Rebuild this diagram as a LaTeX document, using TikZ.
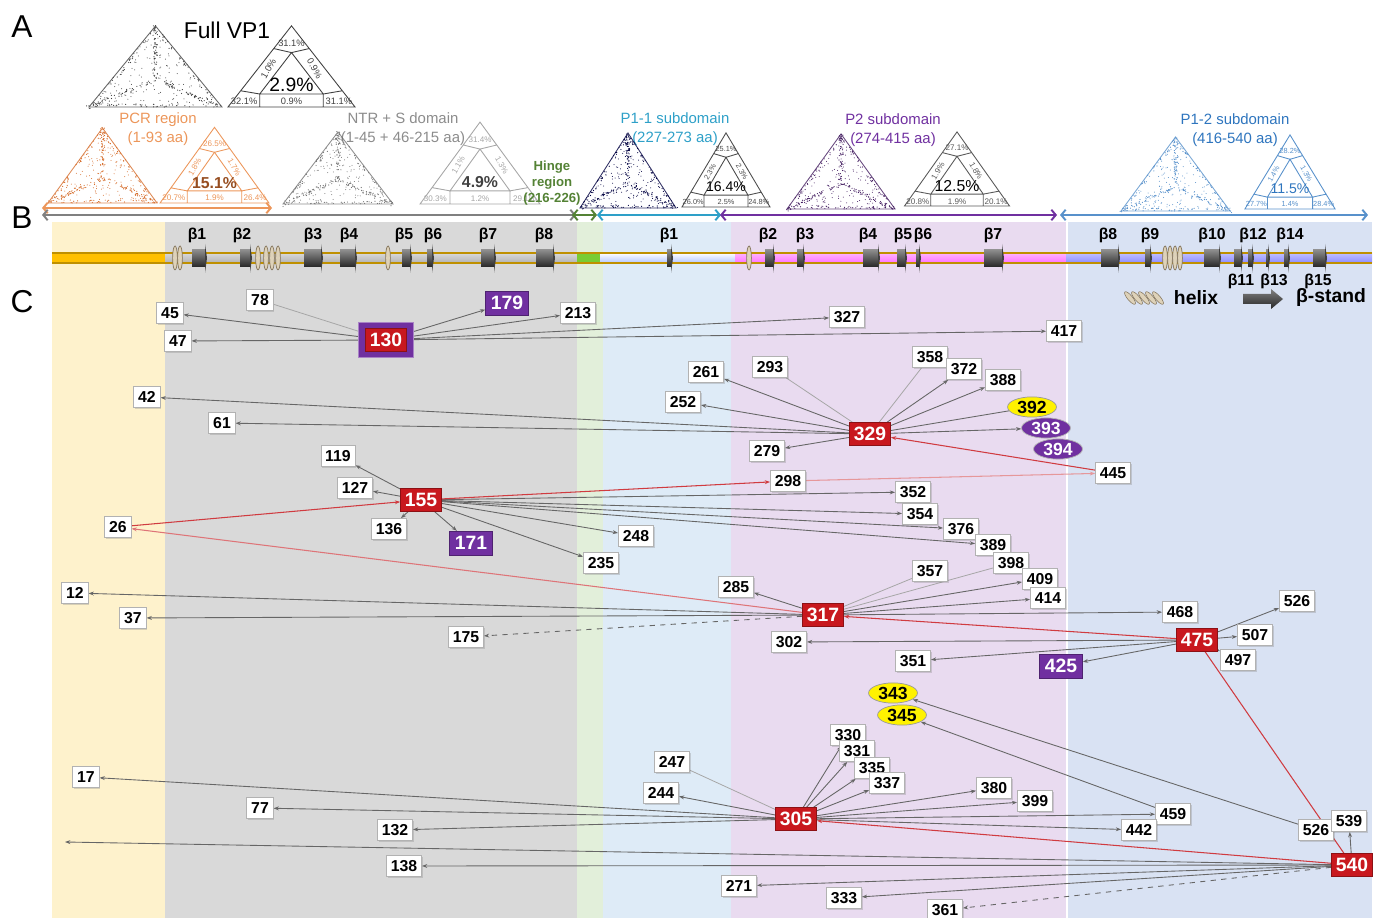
\documentclass[tikz,border=0pt]{standalone}
\usepackage{fontspec}
\setmainfont{Liberation Sans}
\setsansfont{Liberation Sans}
\usetikzlibrary{
  arrows.meta,
  shapes.geometric,
  shadows
}
\definecolor{hubred}{RGB}{200,24,30}
\definecolor{pviolet}{RGB}{112,48,160}
\definecolor{pcror}{RGB}{236,150,90}
\definecolor{pcrdot}{RGB}{214,110,45}
\definecolor{hingegreen}{RGB}{84,130,53}
\definecolor{ponecyan}{RGB}{46,160,200}
\definecolor{ptwopurple}{RGB}{112,48,160}
\definecolor{ponetwoblue}{RGB}{46,117,190}
\definecolor{colyellow}{RGB}{254,242,204}
\definecolor{colgray}{RGB}{217,217,217}
\definecolor{colgreen}{RGB}{226,239,218}
\definecolor{colcyan}{RGB}{222,235,247}
\definecolor{colpurple}{RGB}{233,219,240}
\definecolor{colblue}{RGB}{217,226,243}
\definecolor{baryellow}{RGB}{255,192,0}
\definecolor{bargold}{RGB}{191,144,0}
\definecolor{coilfill}{RGB}{222,210,185}
\definecolor{coiledge}{RGB}{130,115,90}

\pgfdeclarelayer{background}
\pgfdeclarelayer{edges}
\pgfsetlayers{background,edges,main}

% scatter triangle: base centre x, base y, width, height, colour
\newcommand\scattri[5]{%
  \begin{scope}[shift={(#1,#2)}]
    \draw[#5, draw opacity=0.8, line width=0.5pt] (-#3/2,0) -- (#3/2,0) -- (0,-#4) -- cycle;
    \foreach \vx/\vy in {-0.5/0, 0.5/0, 0/-1}{
      \foreach \k in {1,...,60}{
        \pgfmathsetmacro\t{rnd^0.8}
        \pgfmathsetmacro\px{\vx*#3*\t+(rnd+rnd-1)*3}
        \pgfmathsetmacro\py{-#4/3+(\vy*#4+#4/3)*\t+(rnd+rnd-1)*3}
        \fill[#5] (\px,\py) circle (0.6);
      }
    }
    \foreach \ax/\ay/\bx/\by in {-0.5/0/0.5/0, 0.5/0/0/-1, 0/-1/-0.5/0}{
      \foreach \k in {1,...,35}{
        \pgfmathsetmacro\t{rnd}
        \pgfmathsetmacro\s{rnd*0.12}
        \pgfmathsetmacro\px{(\ax+(\bx-\ax)*\t)*#3*(1-\s)}
        \pgfmathsetmacro\py{(\ay+(\by-\ay)*\t)*#4*(1-\s)-#4/3*\s}
        \fill[#5] (\px,\py) circle (0.6);
      }
    }
    \foreach \k in {1,...,130}{
      \pgfmathsetmacro\a{rnd}
      \pgfmathsetmacro\b{rnd}
      \pgfmathsetmacro\aa{(\a+\b>1) ? 1-\a : \a}
      \pgfmathsetmacro\bb{(\a+\b>1) ? 1-\b : \b}
      \fill[#5] (-#3/2+\aa*#3+\bb*#3/2, -\bb*#4) circle (0.5);
    }
  \end{scope}}

% sectioned triangle: scope options, colour, top, left, right, centre, bottom left, bottom mid, bottom right
\newcommand\sectri[9]{%
  \begin{scope}[#1]
    \draw[#2, line width=0.5pt] (-55,0) -- (55,0) -- (0,-78) -- cycle
      (0,-52.3) -- (27.5,-12.5) -- (-27.5,-12.5) -- cycle
      (-27.5,-12.5) -- (-27.5,0) (27.5,-12.5) -- (27.5,0)
      (-27.5,-12.5) -- (-44,-15.6) (27.5,-12.5) -- (44,-15.6)
      (0,-52.3) -- (-15.4,-56.2) (0,-52.3) -- (15.4,-56.2);
    \node[pct, text=#2] at (0,-61.5) {#3};
    \node[pct, text=#2, rotate=60] at (-20,-37) {#4};
    \node[pct, text=#2, rotate=-60] at (20,-37) {#5};
    \node[centrepct] at (0,-21) {#6};
    \node[pct, text=#2] at (-41,-5) {#7};
    \node[pct, text=#2] at (0,-5) {#8};
    \node[pct, text=#2] at (41,-5) {#9};
  \end{scope}}

% beta strand and helix coil on the bar
\newcommand\strand[2]{%
  \shade[top color=black!45, bottom color=black!85] (#1,250) rectangle (#2,267);
  \fill[black!75] (#2,244) -- (#2+2,258) -- (#2,273) -- cycle;}
\newcommand\coil[1]{%
  \filldraw[draw=coiledge, fill=coilfill, line width=0.4pt] (#1,258) ellipse (2.4 and 12);}

\begin{document}
\begin{tikzpicture}[x=0.02cm, y=-0.02cm,
  every node/.style={font=\sffamily},
  panel/.style={font=\fontsize{18}{18}\selectfont},
  region/.style={font=\fontsize{8.5}{10.5}\selectfont, align=center, inner sep=0pt},
  pct/.style={font=\fontsize{4.6}{5}\selectfont, inner sep=0pt},
  centrepct/.style={font=\fontsize{9}{9}\selectfont, inner sep=0pt},
  blab/.style={font=\bfseries\fontsize{9}{9}\selectfont, inner sep=0pt},
  legtxt/.style={font=\bfseries\fontsize{11}{11}\selectfont, inner sep=0pt},
  num/.style={draw=black!30, fill=white, font=\bfseries\fontsize{9}{9}\selectfont,
              minimum height=12pt, inner xsep=2.5pt, inner ysep=1pt,
              drop shadow={shadow xshift=0.7pt, shadow yshift=-0.7pt, opacity=0.3}},
  hub/.style={fill=hubred, draw=hubred!70!black, text=white,
              font=\bfseries\fontsize{11}{11}\selectfont,
              minimum height=13pt, inner xsep=2.5pt, inner ysep=1pt},
  pbox/.style={fill=pviolet, draw=pviolet!70!black, text=white,
               font=\bfseries\fontsize{11}{11}\selectfont,
               minimum height=13.5pt, inner xsep=3pt, inner ysep=1pt},
  pframe/.style={fill=pviolet, draw=pviolet!60, minimum width=31pt, minimum height=20pt},
  yoval/.style={ellipse, fill=yellow, draw=black!40, font=\bfseries\fontsize{10}{10}\selectfont,
                inner xsep=1.5pt, inner ysep=0pt, minimum height=11.5pt},
  poval/.style={ellipse, fill=pviolet, draw=black!30, text=white,
                font=\bfseries\fontsize{10}{10}\selectfont,
                inner xsep=1.5pt, inner ysep=0pt, minimum height=11.5pt},
  link/.style={draw=black!60, line width=0.5pt, -{Stealth[length=3pt,width=2.2pt]}},
  faint/.style={draw=black!35, line width=0.45pt},
  redlink/.style={draw=hubred!85, line width=0.6pt, -{Stealth[length=3pt,width=2.2pt]}},
  rangearr/.style={line width=1.1pt, {Straight Barb[length=2.5pt,width=6pt]}-{Straight Barb[length=2.5pt,width=6pt]}},
]
\useasboundingbox (0,0) rectangle (1379,918);
\pgfmathsetseed{7}

% ---------- A: ternary plots ----------
\node[panel] (pa) at (22,27) {A};
\node[font=\fontsize{13}{13}\selectfont] (full) at (227,30) {Full VP1};

\scattri{155.5}{107}{133}{81}{black!75}
\sectri{shift={(291.5,107)}, xscale=1.155, yscale=1.04,
        pct/.append style={font=\fontsize{5.3}{5.5}\selectfont},
        centrepct/.append style={font=\fontsize{11}{11}\selectfont}}
       {black!75}{31.1\%}{1.0\%}{0.9\%}{2.9\%}{32.1\%}{0.9\%}{31.1\%}

\node[region, text=pcror] (pcr) at (158,129) {PCR region\\(1-93 aa)};
\scattri{102.5}{203}{109}{75}{pcrdot}
\sectri{shift={(214.5,203)}, xscale=0.99, yscale=0.97,
        centrepct/.append style={font=\bfseries\fontsize{9}{9}\selectfont, text=pcrdot!70!black}}
       {pcror}{26.5\%}{1.8\%}{1.7\%}{15.1\%}{20.7\%}{1.9\%}{26.4\%}

\node[region, text=black!45] (ntr) at (403,129) {NTR + S domain\\(1-45 + 46-215 aa)};
\scattri{338}{204}{110}{72}{black!55}
\sectri{shift={(480,204)}, xscale=1.09, yscale=1.05,
        centrepct/.append style={font=\bfseries\fontsize{9}{9}\selectfont, text=black!75}}
       {black!35}{31.4\%}{1.1\%}{1.3\%}{4.9\%}{30.3\%}{1.2\%}{29.1\%}

\node[region, text=hingegreen, font=\bfseries\fontsize{7.5}{9}\selectfont] (hinge) at (552,183) {Hinge\\region\\(216-226)};

\node[region, text=ponecyan] (pone) at (675,129) {P1-1 subdomain\\(227-273 aa)};
\scattri{628}{208}{96}{75}{blue!25!black}
\sectri{shift={(726,207)}, xscale=0.8, yscale=0.95,
        pct/.append style={font=\fontsize{4.2}{4.5}\selectfont},
        centrepct/.append style={font=\fontsize{8}{8}\selectfont}}
       {black!70}{25.1\%}{2.3\%}{2.3\%}{16.4\%}{26.0\%}{2.5\%}{24.8\%}

\node[region, text=ptwopurple] (ptwo) at (893,130) {P2 subdomain\\(274-415 aa)};
\scattri{841}{209}{108}{75}{ptwopurple!60!black}
\sectri{shift={(957,206)}, xscale=0.955, yscale=0.95}
       {black!65}{27.1\%}{1.9\%}{1.8\%}{12.5\%}{20.8\%}{1.9\%}{20.1\%}

\node[region, text=ponetwoblue] (ponetwo) at (1235,130) {P1-2 subdomain\\(416-540 aa)};
\scattri{1175.5}{211}{109}{74}{ponetwoblue!80}
\sectri{shift={(1290,209)}, xscale=0.82, yscale=0.95,
        pct/.append style={font=\fontsize{4.2}{4.5}\selectfont},
        centrepct/.append style={font=\fontsize{8}{8}\selectfont, text=ponetwoblue}}
       {ponetwoblue!80}{28.2\%}{1.4\%}{1.3\%}{11.5\%}{27.7\%}{1.4\%}{28.4\%}

% region spans
\draw[rangearr, pcror] (42,208) -- (272,208);
\draw[rangearr, black!50] (42,215) -- (576,215);
\draw[rangearr, hingegreen] (572,215) -- (597,215);
\draw[rangearr, ponecyan] (597,215) -- (721,215);
\draw[rangearr, ptwopurple] (720,215) -- (1057,215);
\draw[rangearr, ponetwoblue!80] (1060,215) -- (1368,215);

% ---------- B: secondary structure ----------
\begin{pgfonlayer}{background}
  \fill[colyellow] (52,222) rectangle (165,918);
  \fill[colgray] (165,222) rectangle (577,918);
  \fill[colgreen] (577,222) rectangle (603,918);
  \fill[colcyan] (603,222) rectangle (731,918);
  \fill[colpurple] (731,222) rectangle (1066,918);
  \fill[colblue] (1068,222) rectangle (1372,918);
\end{pgfonlayer}
\node[panel] (pb) at (22,218) {B};

\fill[baryellow] (52,253) rectangle (165,263);
\shade[top color=black!15, bottom color=black!30] (165,253) rectangle (577,263);
\fill[green!40!lime!60!gray] (577,253) rectangle (600,263);
\shade[top color=white, bottom color=cyan!25!blue!30] (600,253) rectangle (735,263);
\shade[top color=magenta!30, bottom color=magenta!55] (735,253) rectangle (1066,263);
\shade[top color=blue!25, bottom color=blue!45] (1066,253) rectangle (1372,263);
\draw[bargold, line width=0.6pt] (52,253) -- (1372,253) (52,263) -- (1372,263);

\coil{175} \coil{180}
\strand{192}{205}
\strand{240}{250}
\coil{258} \coil{266} \coil{272} \coil{278}
\strand{304}{321}
\strand{340}{355}
\coil{388}
\strand{402}{410}
\strand{427}{432}
\strand{481}{494}
\strand{536}{553}
\strand{667}{671}
\coil{749}
\strand{765}{773}
\strand{797}{803}
\strand{863}{878}
\strand{897}{905}
\strand{916}{919}
\strand{984}{1002}
\strand{1101}{1118}
\strand{1145}{1150}
\coil{1165} \coil{1170} \coil{1175} \coil{1180}
\strand{1204}{1219}
\strand{1234}{1241}
\strand{1248}{1252}
\strand{1266}{1268}
\strand{1284}{1288}
\strand{1313}{1325}

\node[blab] (b1) at (197,235) {β1};
\node[blab] (b2) at (242,235) {β2};
\node[blab] (b3) at (313,235) {β3};
\node[blab] (b4) at (349,235) {β4};
\node[blab] (b5) at (404,235) {β5};
\node[blab] (b6) at (433,235) {β6};
\node[blab] (b7) at (488,235) {β7};
\node[blab] (b8) at (544,235) {β8};
\node[blab] (c1) at (669,235) {β1};
\node[blab] (c2) at (768,235) {β2};
\node[blab] (c3) at (805,235) {β3};
\node[blab] (c4) at (868,235) {β4};
\node[blab] (c5) at (903,235) {β5};
\node[blab] (c6) at (923,235) {β6};
\node[blab] (c7) at (993,235) {β7};
\node[blab] (d8) at (1108,235) {β8};
\node[blab] (d9) at (1150,235) {β9};
\node[blab] (d10) at (1212,235) {β10};
\node[blab] (d12) at (1253,235) {β12};
\node[blab] (d14) at (1290,235) {β14};
\node[blab] (d11) at (1241,281) {β11};
\node[blab] (d13) at (1274,281) {β13};
\node[blab] (d15) at (1318,281) {β15};

% legend
\foreach \hx in {1130,1137,1144,1151,1158}
  \filldraw[draw=coiledge, fill=coilfill, line width=0.3pt, rotate around={40:(\hx,298)}] (\hx,298) ellipse (2.5 and 8);
\node[legtxt] (lhelix) at (1196,298) {helix};
\shade[top color=black!50, bottom color=black!85]
  (1243,294) -- (1271,294) -- (1271,289) -- (1283,299) -- (1271,309) -- (1271,304) -- (1243,304) -- cycle;
\node[legtxt] (lstrand) at (1331,298) {β-stand};

% ---------- C: coevolution network ----------
\node[panel] (pc) at (22,302) {C};

% 130 cluster
\node[pframe] (n130) at (386,340) {};
\node[hub] (n130r) at (386,340) {130};
\node[num] (n45) at (170,313) {45};
\node[num] (n78) at (260,300) {78};
\node[num] (n47) at (178,341) {47};
\node[pbox] (n179) at (507,303) {179};
\node[num] (n213) at (578,313) {213};
\node[num] (n327) at (847,317) {327};
\node[num] (n417) at (1064,331) {417};

% 329 cluster
\node[hub] (n329) at (870,434) {329};
\node[num] (n42) at (147,397) {42};
\node[num] (n61) at (222,423) {61};
\node[num] (n261) at (706,372) {261};
\node[num] (n293) at (770,367) {293};
\node[num] (n252) at (683,402) {252};
\node[num] (n279) at (767,451) {279};
\node[num] (n358) at (930,357) {358};
\node[num] (n372) at (964,369) {372};
\node[num] (n388) at (1003,380) {388};
\node[yoval] (n392) at (1032,407) {392};
\node[poval] (n393) at (1046,428) {393};
\node[poval] (n394) at (1058,449) {394};
\node[num] (n445) at (1113,473) {445};

% 155 cluster
\node[hub] (n155) at (421,500) {155};
\node[num] (n119) at (338,456) {119};
\node[num] (n127) at (355,488) {127};
\node[num] (n136) at (389,529) {136};
\node[pbox] (n171) at (471,543) {171};
\node[num] (n26) at (118,527) {26};
\node[num] (n298) at (788,481) {298};
\node[num] (n352) at (913,492) {352};
\node[num] (n354) at (920,514) {354};
\node[num] (n376) at (961,529) {376};
\node[num] (n389) at (993,545) {389};
\node[num] (n248) at (636,536) {248};
\node[num] (n235) at (601,563) {235};

% 317 cluster
\node[hub] (n317) at (823,615) {317};
\node[num] (n12) at (75,593) {12};
\node[num] (n37) at (133,618) {37};
\node[num] (n175) at (466,637) {175};
\node[num] (n285) at (736,587) {285};
\node[num] (n357) at (930,571) {357};
\node[num] (n398) at (1011,563) {398};
\node[num] (n409) at (1040,579) {409};
\node[num] (n414) at (1048,598) {414};
\node[num] (n468) at (1180,612) {468};

% 475 cluster
\node[hub] (n475) at (1197,640) {475};
\node[num] (n526) at (1297,601) {526};
\node[num] (n507) at (1255,635) {507};
\node[num] (n497) at (1238,660) {497};
\node[num] (n302) at (789,642) {302};
\node[num] (n351) at (913,661) {351};
\node[pbox] (n425) at (1061,666) {425};

% 305 cluster
\node[hub] (n305) at (796,819) {305};
\node[num] (n17) at (86,777) {17};
\node[num] (n247) at (672,762) {247};
\node[num] (n244) at (661,793) {244};
\node[num] (n77) at (260,808) {77};
\node[num] (n132) at (395,830) {132};
\node[num] (n330) at (848,735) {330};
\node[num] (n331) at (857,751) {331};
\node[num] (n335) at (872,768) {335};
\node[num] (n337) at (887,783) {337};
\node[num] (n380) at (994,788) {380};
\node[num] (n399) at (1035,801) {399};
\node[num] (n459) at (1173,814) {459};
\node[num] (n442) at (1139,830) {442};
\node[yoval] (n343) at (893,693) {343};
\node[yoval] (n345) at (902,715) {345};

% 540 cluster
\node[hub] (n540) at (1352,865) {540};
\node[num] (n526b) at (1316,830) {526};
\node[num] (n539) at (1349,821) {539};
\node[num] (n138) at (404,866) {138};
\node[num] (n271) at (739,886) {271};
\node[num] (n333) at (844,898) {333};
\node[num] (n361) at (945,910) {361};
\coordinate (w540) at (65,842);

\begin{pgfonlayer}{edges}
% 130
\draw[link] (n130) -- (n45);
\draw[link] (n130) -- (n47);
\draw[faint] (n130) -- (n78);
\draw[link] (n130) -- (n179);
\draw[link] (n130) -- (n213);
\draw[link] (n130) -- (n327);
\draw[link] (n130) -- (n417);
% 329
\draw[link] (n329) -- (n42);
\draw[link] (n329) -- (n61);
\draw[link] (n329) -- (n261);
\draw[faint] (n329) -- (n293);
\draw[link] (n329) -- (n252);
\draw[link] (n329) -- (n279);
\draw[faint] (n329) -- (n358);
\draw[link] (n329) -- (n372);
\draw[link] (n329) -- (n388);
\draw[link, -] (n329) -- (n392);
\draw[link] (n329) -- (n393);
\draw[redlink] (n445) -- (n329);
% 155
\draw[link] (n155) -- (n119);
\draw[link] (n155) -- (n127);
\draw[link] (n155) -- (n136);
\draw[link] (n155) -- (n171);
\draw[link] (n155) -- (n352);
\draw[link] (n155) -- (n354);
\draw[link] (n155) -- (n376);
\draw[link] (n155) -- (n389);
\draw[link] (n155) -- (n248);
\draw[link] (n155) -- (n235);
\draw[redlink] (n26) -- (n155);
\draw[redlink] (n155) -- (n298);
\draw[redlink, draw=hubred!45] (n298) -- (n445);
% 317
\draw[link] (n317) -- (n12);
\draw[link] (n317) -- (n37);
\draw[link, dashed] (n317) -- (n175);
\draw[link] (n317) -- (n285);
\draw[faint] (n317) -- (n357);
\draw[faint] (n317) -- (n398);
\draw[link] (n317) -- (n409);
\draw[link] (n317) -- (n414);
\draw[link] (n317) -- (n468);
\draw[redlink, draw=hubred!60] (n317) -- (n26);
\draw[redlink] (n475) -- (n317);
% 475
\draw[link] (n475) -- (n526);
\draw[link] (n475) -- (n507);
\draw[link] (n475) -- (n497);
\draw[link] (n475) -- (n302);
\draw[link] (n475) -- (n351);
\draw[link] (n475) -- (n425);
\draw[redlink, -] (n475) -- (n540);
% 305
\draw[link] (n305) -- (n17);
\draw[link] (n305) -- (n77);
\draw[link] (n305) -- (n132);
\draw[faint] (n305) -- (n247);
\draw[link] (n305) -- (n244);
\draw[link] (n305) -- (n330);
\draw[link] (n305) -- (n331);
\draw[link] (n305) -- (n335);
\draw[link] (n305) -- (n337);
\draw[link] (n305) -- (n380);
\draw[link] (n305) -- (n399);
\draw[link] (n305) -- (n459);
\draw[link] (n305) -- (n442);
\draw[redlink] (n540) -- (n305);
\draw[link] (n459) -- (n345);
\draw[link] (n526b) -- (n343);
% 540
\draw[link] (n540) -- (n539);
\draw[link] (n540) -- (w540);
\draw[link] (n540) -- (n138);
\draw[link] (n540) -- (n271);
\draw[link] (n540) -- (n333);
\draw[link, dashed] (n540) -- (n361);
\end{pgfonlayer}

\end{tikzpicture}
\end{document}
